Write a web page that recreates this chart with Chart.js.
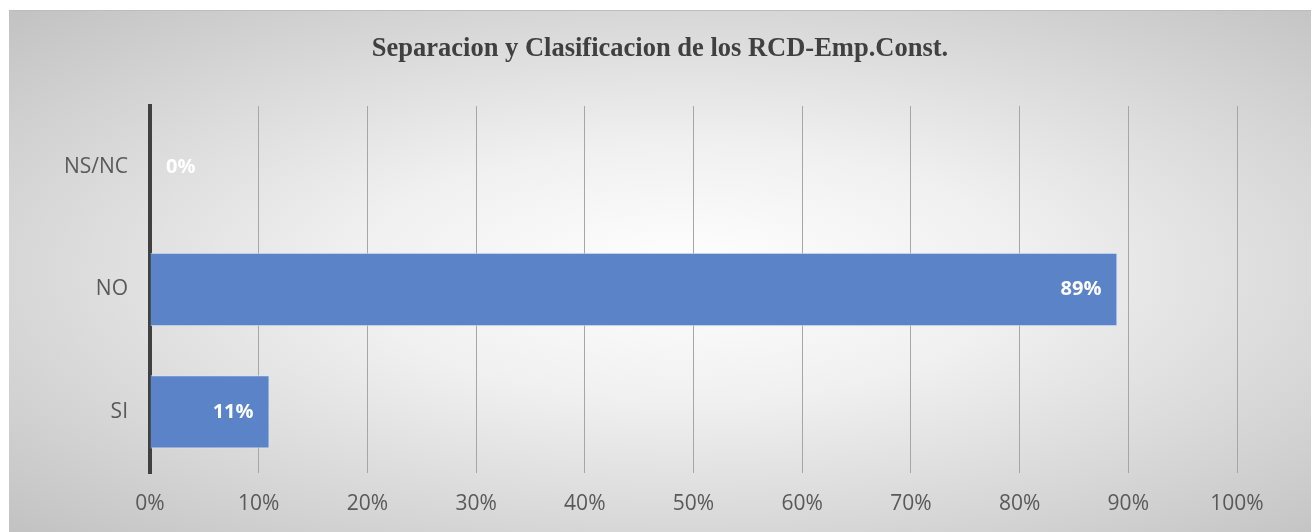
<!DOCTYPE html>
<html>
<head>
<meta charset="utf-8">
<script src="https://cdn.jsdelivr.net/npm/chart.js@4/dist/chart.umd.min.js"></script>
<style>
  html, body { margin: 0; padding: 0; background: #ffffff; }
  #wrap { position: relative; width: 1311px; height: 532px; }
  #bg { position: absolute; left: 9px; top: 10px; width: 1302px; height: 522px;
        border-top: 1px solid #bdbdbd;
        background: radial-gradient(ellipse farthest-corner at 52% 50%, #ffffff 0%, #f0f0f0 35%, #c2c2c2 100%); }
  canvas { position: absolute; left: 0; top: 0; }
</style>
</head>
<body>
<div id="wrap">
  <div id="bg"></div>
  <canvas id="c" width="1311" height="532"></canvas>
</div>
<script>
const title = "Separacion y Clasificacion de los RCD-Emp.Const.";
const categories = ["NS/NC", "NO", "SI"];
const values = [0, 89, 11];
const xTicks = [0, 10, 20, 30, 40, 50, 60, 70, 80, 90, 100];

const labelPlugin = {
  id: 'barLabels',
  afterDatasetsDraw(chart) {
    const ctx = chart.ctx;
    const meta = chart.getDatasetMeta(0);
    ctx.save();
    ctx.font = 'bold 20px "Open Sans"';
    ctx.fillStyle = '#ffffff';
    ctx.textBaseline = 'middle';
    meta.data.forEach((bar, i) => {
      const v = values[i];
      const txt = v + '%';
      if (v > 0) {
        ctx.textAlign = 'right';
        ctx.fillText(txt, bar.x - 16, bar.y);
      } else {
        ctx.textAlign = 'left';
        ctx.fillText(txt, bar.base + 16, bar.y);
      }
    });
    // chart title, centred on the chart frame
    ctx.font = 'bold 26.5px "Liberation Serif"';
    ctx.fillStyle = '#404040';
    ctx.textAlign = 'center';
    ctx.textBaseline = 'middle';
    ctx.fillText(title, 660, 49);
    ctx.restore();
  }
};

new Chart(document.getElementById('c'), {
  type: 'bar',
  data: {
    labels: categories,
    datasets: [{
      data: values,
      backgroundColor: '#5b84c8',
      borderColor: 'rgba(220,230,245,0.9)',
      borderWidth: 1,
      borderSkipped: 'start',
      barPercentage: 0.6,
      categoryPercentage: 1.0
    }]
  },
  options: {
    indexAxis: 'y',
    responsive: false,
    animation: false,
    layout: { padding: { left: 0, right: 74, top: 106, bottom: 0 } },
    plugins: {
      legend: { display: false },
      tooltip: { enabled: false },
      title: { display: false }
    },
    scales: {
      x: {
        min: 0, max: 100,
        afterBuildTicks(scale) { scale.ticks = xTicks.map(v => ({ value: v })); },
        afterFit(scale) { scale.height = 59; },
        grid: { color: '#a6a6a6', lineWidth: 1, drawTicks: false },
        border: { display: false },
        ticks: {
          padding: 18,
          color: '#595959',
          font: { family: '"Open Sans"', size: 21 },
          callback: v => v + '%'
        }
      },
      y: {
        afterFit(scale) { scale.width = 150; },
        grid: { display: false, drawTicks: false },
        border: { display: true, color: '#404040', width: 4 },
        ticks: {
          padding: 22,
          color: '#595959',
          font: { family: '"Open Sans"', size: 21 }
        }
      }
    }
  },
  plugins: [labelPlugin]
});
</script>
</body>
</html>
